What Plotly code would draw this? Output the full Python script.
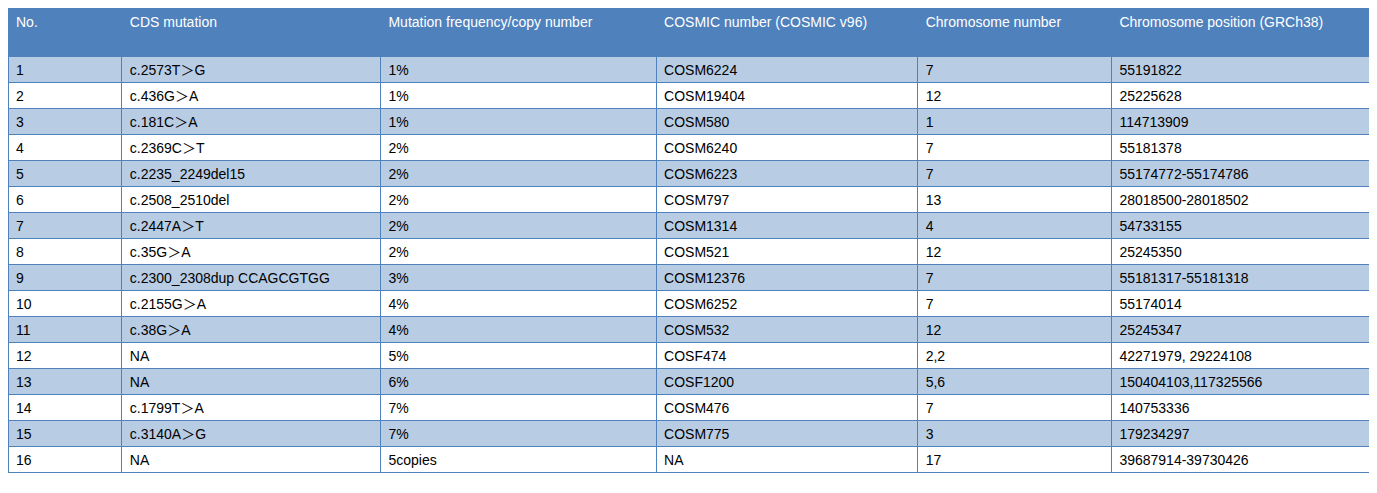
import plotly.graph_objects as go

headers = ["No.", "CDS mutation", "Mutation frequency/copy number",
           "COSMIC number (COSMIC v96)", "Chromosome number",
           "Chromosome position (GRCh38)"]

row_no = [str(i) for i in range(1, 17)]
cds_mutation = ["c.2573T＞G", "c.436G＞A", "c.181C＞A", "c.2369C＞T",
                "c.2235_2249del15", "c.2508_2510del", "c.2447A＞T", "c.35G＞A",
                "c.2300_2308dup CCAGCGTGG", "c.2155G＞A", "c.38G＞A", "NA", "NA",
                "c.1799T＞A", "c.3140A＞G", "NA"]
frequency = ["1%", "1%", "1%", "2%", "2%", "2%", "2%", "2%", "3%", "4%", "4%",
             "5%", "6%", "7%", "7%", "5copies"]
cosmic = ["COSM6224", "COSM19404", "COSM580", "COSM6240", "COSM6223", "COSM797",
          "COSM1314", "COSM521", "COSM12376", "COSM6252", "COSM532", "COSF474",
          "COSF1200", "COSM476", "COSM775", "NA"]
chromosome = ["7", "12", "1", "7", "7", "13", "4", "12", "7", "7", "12", "2,2",
              "5,6", "7", "3", "17"]
position = ["55191822", "25225628", "114713909", "55181378", "55174772-55174786",
            "28018500-28018502", "54733155", "25245350", "55181317-55181318",
            "55174014", "25245347", "42271979, 29224108", "150404103,117325566",
            "140753336", "179234297", "39687914-39730426"]

col_widths = [114, 259, 276, 262, 194, 264]
blue = "#4F81BD"
fills = ["#B8CCE4" if i % 2 == 0 else "white" for i in range(len(row_no))]

fig = go.Figure(go.Table(
    columnwidth=col_widths,
    header=dict(
        values=headers,
        fill_color=blue,
        line_color=blue,
        align="left",
        height=48,
        font=dict(family="Liberation Sans, Arial", size=14, color="white"),
    ),
    cells=dict(
        values=[row_no, cds_mutation, frequency, cosmic, chromosome, position],
        fill_color=[fills] * 6,
        line_color=blue,
        align="left",
        height=26,
        font=dict(family="Liberation Sans, Arial, Noto Sans CJK SC", size=14, color="black"),
    ),
))

fig.update_layout(
    width=1377, height=493,
    margin=dict(l=0, r=10, t=0, b=0),
    paper_bgcolor="white",
)

fig.write_html("out.html")
